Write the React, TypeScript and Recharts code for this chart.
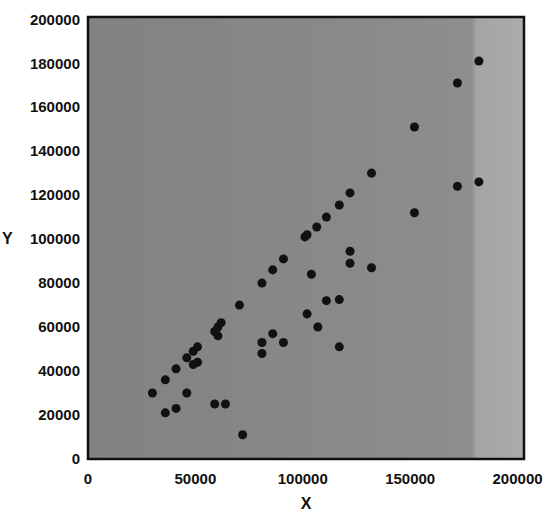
import React from 'react';
import { ScatterChart, Scatter, XAxis, YAxis, ZAxis, ReferenceArea } from 'recharts';

// Observations: paired X / Y values
const xValues = [
  30000, 36000, 36000, 41000, 41000, 46000, 46000, 49000, 51000, 49000,
  51000, 59000, 60500, 62000, 60500, 59000, 64000, 70500, 72000, 81000,
  81000, 81000, 86000, 86000, 91000, 91000, 101000, 102000, 104000, 102000,
  106500, 107000, 111000, 111000, 117000, 117000, 117000, 122000, 122000, 122000,
  132000, 132000, 152000, 152000, 172000, 172000, 182000, 182000,
];
const yValues = [
  30000, 36000, 21000, 23000, 41000, 30000, 46000, 49000, 51000, 43000,
  44000, 58000, 60000, 62000, 56000, 25000, 25000, 70000, 11000, 80000,
  53000, 48000, 86000, 57000, 91000, 53000, 101000, 102000, 84000, 66000,
  105500, 60000, 110000, 72000, 72500, 115500, 51000, 121000, 94500, 89000,
  87000, 130000, 151000, 112000, 171000, 124000, 181000, 126000,
];

const xTicks = [0, 50000, 100000, 150000, 200000];
const yTicks = [0, 20000, 40000, 60000, 80000, 100000, 120000, 140000, 160000, 180000, 200000];
const X_MAX = 203000;
const Y_MAX = 201000;

const points = xValues.map((x, i) => ({ x, y: yValues[i] }));

const tickStyle = {
  fontFamily: '"Liberation Sans", Arial, sans-serif',
  fontSize: 15,
  fontWeight: 'bold' as const,
  fill: '#111',
};

export default function App() {
  return (
    <div style={{ position: 'absolute', left: 0, top: 0, width: 550, height: 512, background: '#fff' }}>
      <ScatterChart width={550} height={512} margin={{ top: 17, right: 26, bottom: 0, left: 0 }}>
        <defs>
          <linearGradient id="plotBg" x1="0" y1="0" x2="1" y2="0">
            <stop offset="0" stopColor="#828282" />
            <stop offset="0.5" stopColor="#888888" />
            <stop offset="0.88" stopColor="#8e8e8e" />
            <stop offset="0.89" stopColor="#a4a4a4" />
            <stop offset="1" stopColor="#acacac" />
          </linearGradient>
        </defs>
        <XAxis
          type="number"
          dataKey="x"
          domain={[0, X_MAX]}
          ticks={xTicks}
          tickLine={false}
          axisLine={false}
          tickMargin={8}
          height={53}
          tick={tickStyle}
          interval={0}
          label={{ value: 'X', position: 'insideBottom', offset: 3, style: { ...tickStyle, fontSize: 16 } }}
        />
        <YAxis
          type="number"
          dataKey="y"
          domain={[0, Y_MAX]}
          ticks={yTicks}
          tickLine={false}
          axisLine={false}
          width={88}
          tick={tickStyle}
          interval={0}
          label={{ value: 'Y', position: 'insideLeft', offset: 2, style: { ...tickStyle, fontSize: 16 } }}
        />
        <ZAxis range={[55, 55]} />
        <ReferenceArea
          x1={0}
          x2={X_MAX}
          y1={0}
          y2={Y_MAX}
          ifOverflow="visible"
          fill="url(#plotBg)"
          fillOpacity={1}
          stroke="#111"
          strokeWidth={2.5}
        />
        <Scatter data={points} fill="#111" shape="circle" isAnimationActive={false} />
      </ScatterChart>
    </div>
  );
}
